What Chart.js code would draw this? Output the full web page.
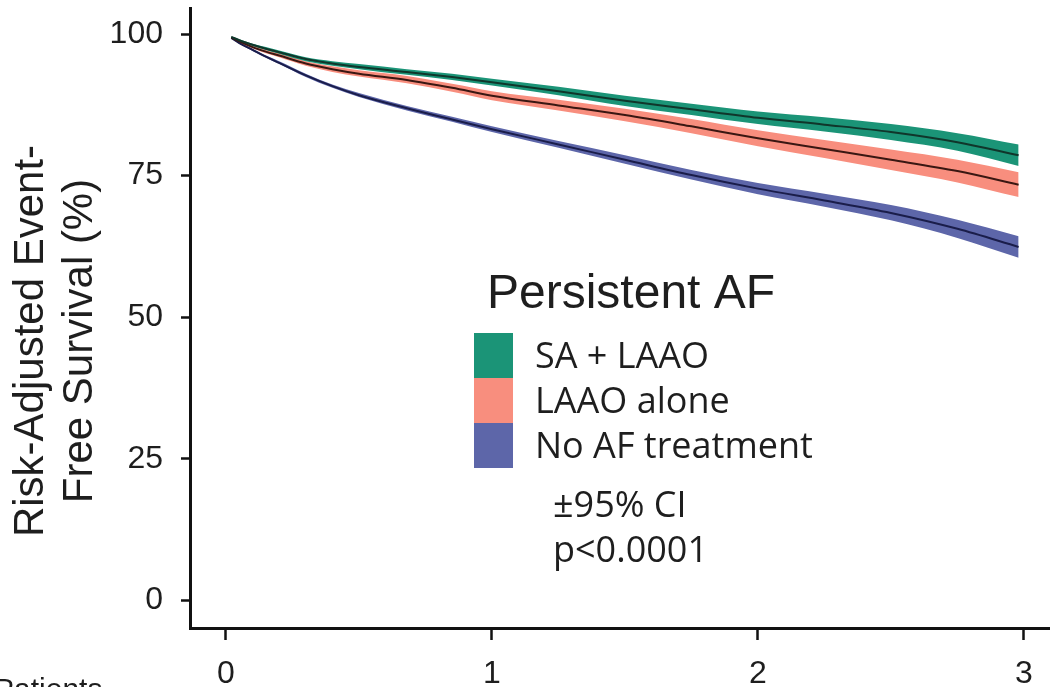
<!DOCTYPE html>
<html>
<head>
<meta charset="utf-8">
<script src="https://cdn.jsdelivr.net/npm/chart.js@4.4.1/dist/chart.umd.min.js"></script>
<style>
  html, body { margin: 0; padding: 0; background: #fff; }
  #wrap { width: 1050px; height: 687px; overflow: hidden; }
</style>
</head>
<body>
<div id="wrap"><canvas id="survChart" width="1050" height="687"></canvas></div>
<script>
// Follow-up time (years)
const years = [0.02, 0.05, 0.1, 0.15, 0.2, 0.3, 0.4, 0.5, 0.68, 0.85, 1.0, 1.25, 1.5, 1.75, 2.0, 2.25, 2.5, 2.75, 2.98];

const groupNames = ["SA + LAAO", "LAAO alone", "No AF treatment"];

// SA + LAAO
const saLaao      = [99.5, 98.9, 98.1, 97.4, 96.8, 95.6, 94.8, 94.2, 93.3, 92.4, 91.5, 89.9, 88.2, 86.7, 85.2, 84.0, 82.7, 80.9, 78.6];
const saLaaoUpper = [99.6, 99.1, 98.3, 97.7, 97.1, 95.9, 95.2, 94.7, 93.8, 93.0, 92.1, 90.7, 89.1, 87.7, 86.3, 85.3, 84.1, 82.5, 80.5];
const saLaaoLower = [99.4, 98.8, 97.9, 97.2, 96.5, 95.2, 94.4, 93.8, 92.8, 91.9, 90.9, 89.2, 87.3, 85.7, 84.1, 82.8, 81.3, 79.4, 76.7];

// LAAO alone
const laao      = [99.4, 98.7, 97.7, 96.9, 96.2, 94.8, 93.8, 93.0, 91.9, 90.5, 89.1, 87.4, 85.7, 83.7, 81.6, 79.7, 77.8, 75.8, 73.4];
const laaoUpper = [99.5, 98.9, 98.0, 97.2, 96.6, 95.2, 94.3, 93.6, 92.6, 91.2, 89.9, 88.4, 86.8, 85.0, 83.0, 81.3, 79.6, 77.8, 75.6];
const laaoLower = [99.3, 98.5, 97.5, 96.6, 95.9, 94.4, 93.3, 92.5, 91.3, 89.8, 88.3, 86.5, 84.6, 82.5, 80.2, 78.1, 76.0, 73.8, 71.2];

// No AF treatment
const noTx      = [99.3, 98.4, 97.2, 96.0, 94.9, 92.7, 90.8, 89.2, 86.9, 84.9, 83.2, 80.5, 77.8, 75.1, 72.7, 70.6, 68.4, 65.6, 62.4];
const noTxUpper = [99.4, 98.6, 97.4, 96.2, 95.2, 93.0, 91.1, 89.6, 87.3, 85.4, 83.7, 81.1, 78.6, 76.0, 73.7, 71.8, 69.8, 67.2, 64.3];
const noTxLower = [99.2, 98.3, 97.0, 95.8, 94.7, 92.4, 90.5, 88.9, 86.5, 84.5, 82.7, 79.9, 77.1, 74.3, 71.7, 69.5, 67.1, 64.0, 60.5];

const xTicks = [0, 1, 2, 3];
const yTicks = [0, 25, 50, 75, 100];
const yTitle = ["Risk-Adjusted Event-", "Free Survival (%)"];
const legendTitle = "Persistent AF";
const legendNotes = ["\u00B195% CI", "p<0.0001"];

const bandColors = ["#1b9477", "#f88e7e", "#5d66a9"];
const lineColors = ["#10362b", "#3a1712", "#1a1d4a"];

const pts = arr => arr.map((v, i) => ({ x: years[i], y: v }));

function groupSets(name, mean, upper, lower, k) {
  return [
    { label: name, data: pts(mean), borderColor: lineColors[k], borderWidth: 2,
      fill: false, order: 0 },
    { label: name + " upper", data: pts(upper), borderWidth: 0, borderColor: bandColors[k],
      backgroundColor: bandColors[k], fill: "+1", order: 1 },
    { label: name + " lower", data: pts(lower), borderWidth: 0, borderColor: bandColors[k],
      fill: false, order: 1 }
  ];
}

// no extra room for overflowing tick labels
function noPad(s) {
  s.paddingTop = 0;
  s.paddingBottom = 0;
  s.paddingLeft = 0;
  s.paddingRight = 0;
}

// legend, axis title and notes drawn on top of the chart
const overlay = {
  id: "overlay",
  afterDraw(chart) {
    const ctx = chart.ctx;
    ctx.save();
    ctx.fillStyle = "#1e1e1e";

    // y-axis title, two rotated lines
    ctx.font = "42px 'Liberation Sans', Arial, sans-serif";
    ctx.textAlign = "center";
    ctx.textBaseline = "alphabetic";
    [43, 92].forEach((bx, i) => {
      ctx.save();
      ctx.translate(bx, 341);
      ctx.rotate(-Math.PI / 2);
      ctx.fillText(yTitle[i], 0, 0);
      ctx.restore();
    });

    // legend
    ctx.textAlign = "left";
    ctx.font = "48px 'Liberation Sans', Arial, sans-serif";
    ctx.fillText(legendTitle, 487, 308);
    ctx.font = "36px 'Open Sans', sans-serif";
    groupNames.forEach((name, i) => {
      ctx.fillStyle = bandColors[i];
      ctx.fillRect(474, 333 + i * 45, 39, 45);
      ctx.fillStyle = "#1e1e1e";
      ctx.fillText(name, 535, 368 + i * 45);
    });
    ctx.fillText(legendNotes[0], 553, 517);
    ctx.fillText(legendNotes[1], 553, 562);

    // cut-off risk table header
    ctx.font = "30px 'Liberation Sans', Arial, sans-serif";
    ctx.textBaseline = "top";
    ctx.fillText("Patients", -6, 676);
    ctx.restore();
  }
};

const ctx = document.getElementById("survChart").getContext("2d");
new Chart(ctx, {
  type: "line",
  data: {
    datasets: [
      ...groupSets(groupNames[0], saLaao, saLaaoUpper, saLaaoLower, 0),
      ...groupSets(groupNames[1], laao, laaoUpper, laaoLower, 1),
      ...groupSets(groupNames[2], noTx, noTxUpper, noTxLower, 2)
    ]
  },
  options: {
    responsive: false,
    animation: false,
    devicePixelRatio: 1,
    layout: { padding: { top: 8, right: 0, bottom: 0, left: 0 } },
    elements: {
      point: { radius: 0 },
      line: { cubicInterpolationMode: "monotone" }
    },
    plugins: {
      legend: { display: false },
      tooltip: { enabled: false }
    },
    scales: {
      x: {
        type: "linear",
        min: -0.1353,
        max: 3.098,
        afterBuildTicks: s => { s.ticks = xTicks.map(v => ({ value: v })); },
        afterFit: s => { s.height = 59; noPad(s); },
        border: { display: true, width: 3, color: "#111" },
        grid: { drawOnChartArea: false, drawTicks: true, tickLength: 12, tickWidth: 2.5, tickColor: "#111" },
        ticks: {
          padding: 15,
          color: "#1e1e1e",
          font: { family: "'Liberation Sans', Arial, sans-serif", size: 32 }
        }
      },
      y: {
        min: -4.9,
        max: 104.6,
        afterBuildTicks: s => { s.ticks = yTicks.map(v => ({ value: v })); },
        afterFit: s => { s.width = 190; noPad(s); },
        border: { display: true, width: 3, color: "#111" },
        grid: { drawOnChartArea: false, drawTicks: true, tickLength: 9, tickWidth: 2.5, tickColor: "#111" },
        ticks: {
          padding: 18,
          color: "#1e1e1e",
          font: { family: "'Liberation Sans', Arial, sans-serif", size: 32 }
        }
      }
    }
  },
  plugins: [overlay]
});
</script>
</body>
</html>
